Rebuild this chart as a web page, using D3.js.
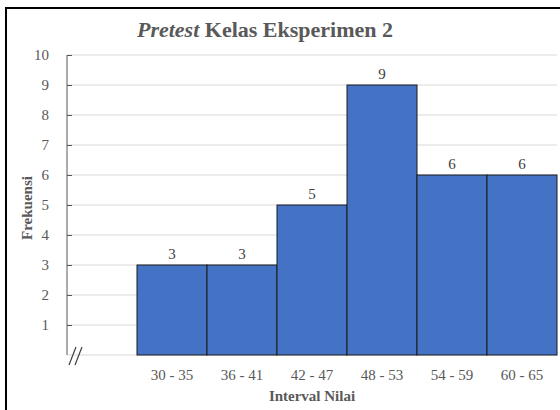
<!DOCTYPE html>
<html>
<head>
<meta charset="utf-8">
<script src="https://cdn.jsdelivr.net/npm/d3@7"></script>
<style>
  body { margin: 0; background: #fff; }
</style>
</head>
<body>
<div id="chart"></div>
<script>
// Data
const categories = ['', '30 - 35', '36 - 41', '42 - 47', '48 - 53', '54 - 59', '60 - 65'];
const frequencies = [null, 3, 3, 5, 9, 6, 6];
const yTicks = [1, 2, 3, 4, 5, 6, 7, 8, 9, 10];

const FONT = 'Liberation Serif';
const W = 560, H = 410;
const margin = { top: 55, right: 3, bottom: 55, left: 67 };
const width = W - margin.left - margin.right;
const height = H - margin.top - margin.bottom;

const svg = d3.select('#chart')
    .append('svg')
    .attr('width', W)
    .attr('height', H)
    .attr('font-family', FONT);

// outer frame (Excel chart border)
svg.append('rect')
    .attr('x', 6).attr('y', 8)
    .attr('width', W + 10).attr('height', H + 10)
    .attr('fill', 'none')
    .attr('stroke', '#000')
    .attr('stroke-width', 2);

svg.append('text')
    .attr('x', 265).attr('y', 37)
    .attr('text-anchor', 'middle')
    .attr('fill', '#595959')
    .attr('font-family', FONT)
    .attr('font-size', 22)
    .attr('font-weight', 'bold')
    .call(t => {
        t.append('tspan').attr('font-style', 'italic').text('Pretest');
        t.append('tspan').text(' Kelas Eksperimen 2');
    });

const g = svg.append('g')
    .attr('transform', 'translate(' + margin.left + ',' + margin.top + ')');

const x = d3.scaleBand()
    .domain(categories.map((d, i) => i))
    .range([0, width])
    .padding(0);

const y = d3.scaleLinear()
    .domain([0, 10])
    .range([height, 0]);

// gridlines
g.append('g')
    .selectAll('line')
    .data(yTicks)
    .enter()
    .append('line')
    .attr('x1', 0).attr('x2', width)
    .attr('y1', d => y(d)).attr('y2', d => y(d))
    .attr('stroke', '#d9d9d9')
    .attr('stroke-width', 1);

// baseline
g.append('line')
    .attr('x1', 0).attr('x2', width)
    .attr('y1', y(0)).attr('y2', y(0))
    .attr('stroke', '#d9d9d9');

// bars
const data = categories.map((c, i) => ({ i: i, c: c, v: frequencies[i] })).filter(d => d.v !== null);

g.append('g')
    .selectAll('rect')
    .data(data)
    .enter()
    .append('rect')
    .attr('x', d => x(d.i))
    .attr('y', d => y(d.v))
    .attr('width', x.bandwidth())
    .attr('height', d => y(0) - y(d.v))
    .attr('fill', '#4472c4')
    .attr('stroke', '#1a1a1a')
    .attr('stroke-width', 1);

// value labels
g.append('g')
    .selectAll('text')
    .data(data)
    .enter()
    .append('text')
    .attr('x', d => x(d.i) + x.bandwidth() / 2)
    .attr('y', d => y(d.v) - 6)
    .attr('text-anchor', 'middle')
    .attr('fill', '#404040')
    .attr('font-family', FONT)
    .attr('font-size', 15)
    .text(d => d.v);

// y axis
const yAxis = d3.axisLeft(y)
    .tickValues(yTicks)
    .tickSize(-5)
    .tickPadding(18);

g.append('g')
    .call(yAxis)
    .attr('font-family', FONT)
    .attr('font-size', 15)
    .call(a => a.select('.domain').attr('stroke', '#595959').attr('d', 'M0,' + y(10) + 'V' + y(0)))
    .call(a => a.selectAll('.tick line').attr('stroke', '#595959'))
    .call(a => a.selectAll('.tick text').attr('fill', '#595959'));

// x axis labels
const xAxis = d3.axisBottom(x)
    .tickFormat(i => categories[i])
    .tickSize(0)
    .tickPadding(14);

g.append('g')
    .attr('transform', 'translate(0,' + height + ')')
    .call(xAxis)
    .attr('font-family', FONT)
    .attr('font-size', 15)
    .call(a => a.select('.domain').remove())
    .call(a => a.selectAll('.tick text').attr('fill', '#595959'));

// axis break marks "//"
const brk = g.append('g').attr('stroke', '#404040').attr('stroke-width', 1.2);
[0, 6].forEach(dx => {
    brk.append('line')
        .attr('x1', 2 + dx).attr('y1', y(0) + 10)
        .attr('x2', 9 + dx).attr('y2', y(0) - 8);
});

// axis titles
svg.append('text')
    .attr('transform', 'translate(32,' + (margin.top + y(4.9)) + ') rotate(-90)')
    .attr('text-anchor', 'middle')
    .attr('fill', '#595959')
    .attr('font-family', FONT)
    .attr('font-size', 15)
    .attr('font-weight', 'bold')
    .text('Frekuensi');

svg.append('text')
    .attr('x', 312).attr('y', 401)
    .attr('text-anchor', 'middle')
    .attr('fill', '#595959')
    .attr('font-family', FONT)
    .attr('font-size', 15)
    .attr('font-weight', 'bold')
    .text('Interval Nilai');
</script>
</body>
</html>
